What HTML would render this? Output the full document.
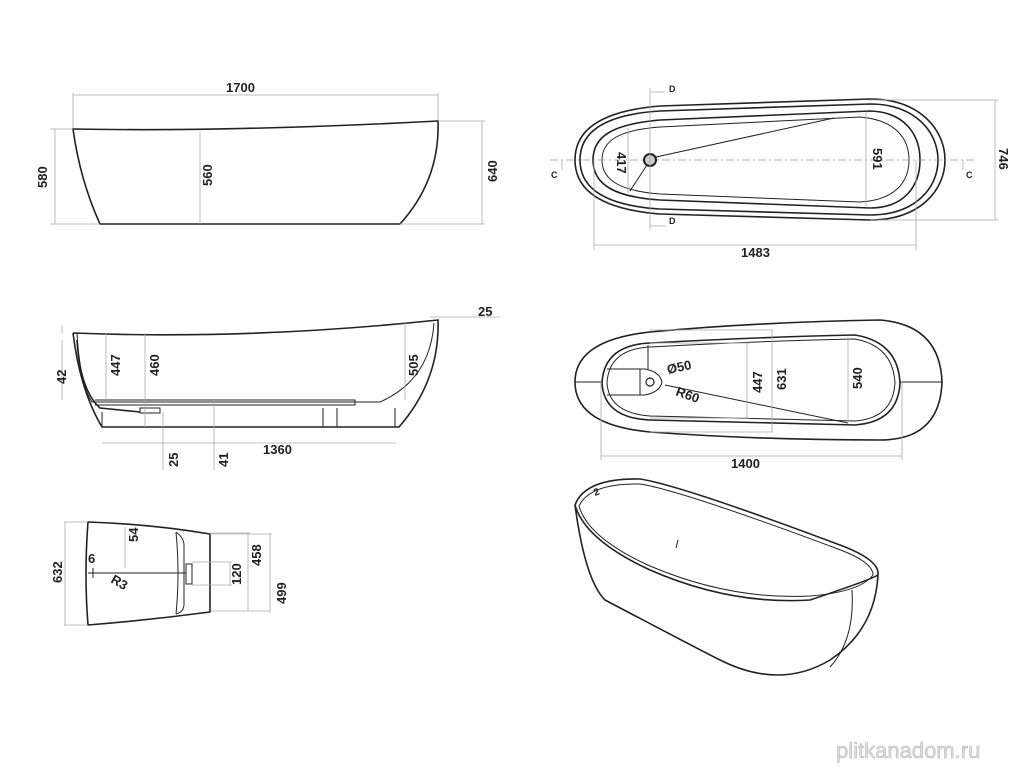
<!DOCTYPE html>
<html><head><style>
html,body{margin:0;padding:0;background:#fff;}
svg{display:block}
text{font-family:"Liberation Sans",sans-serif;font-weight:bold;font-size:13px;fill:#222}
.b{fill:none;stroke:#222;stroke-width:1.6}
.t{fill:none;stroke:#222;stroke-width:1}
.d{fill:none;stroke:#aaa;stroke-width:0.8}
.c{fill:none;stroke:#999;stroke-width:0.8;stroke-dasharray:8 3 2 3}
</style></head><body>
<svg width="1024" height="768" viewBox="0 0 1024 768" xmlns="http://www.w3.org/2000/svg">
<!-- View 1: side -->
<path class="b" d="M73,129 Q230,132 438,121 Q440,180 400,224 L100,224 Q80,180 73,129 Z"/>
<line class="d" x1="73" y1="95" x2="438" y2="95"/>
<line class="d" x1="73" y1="93" x2="73" y2="128"/>
<line class="d" x1="438" y1="93" x2="438" y2="120"/>
<text x="226" y="92">1700</text>
<line class="d" x1="200" y1="132" x2="200" y2="224"/>
<text x="0" y="0" transform="translate(212,186) rotate(-90)">560</text>
<line class="d" x1="50" y1="129" x2="73" y2="129"/><line class="d" x1="50" y1="224" x2="100" y2="224"/>
<line class="d" x1="55" y1="129" x2="55" y2="224"/>
<text transform="translate(47,188) rotate(-90)">580</text>
<line class="d" x1="438" y1="121" x2="485" y2="121"/><line class="d" x1="400" y1="224" x2="485" y2="224"/>
<line class="d" x1="482" y1="121" x2="482" y2="224"/>
<text transform="translate(497,182) rotate(-90)">640</text>

<!-- View 2: section -->
<path class="b" d="M73,333 Q250,340 438,320 Q440,380 399,427 L102,427 Q80,390 73,333"/>
<path class="t" d="M77,333 Q80,385 92,402 L380,402 Q430,380 434,323"/>
<path class="b" d="M77,340 Q80,390 100,408 L140,412"/>
<path class="t" d="M95,400 L355,400 L355,405 L95,405"/>
<path class="t" d="M102,412 L102,427 M323,408 L323,427 M337,408 L337,427 M395,408 L395,427"/>
<path class="t" d="M140,408 L160,408 L160,413 L140,413 Z"/>
<line class="d" x1="62" y1="325" x2="62" y2="333"/><line class="d" x1="62" y1="340" x2="62" y2="400"/>
<text transform="translate(66,384) rotate(-90)">42</text>
<line class="d" x1="106" y1="333" x2="106" y2="400"/>
<text transform="translate(120,376) rotate(-90)">447</text>
<line class="d" x1="145" y1="333" x2="145" y2="427"/>
<text transform="translate(159,376) rotate(-90)">460</text>
<line class="d" x1="405" y1="323" x2="405" y2="400"/>
<text transform="translate(418,376) rotate(-90)">505</text>
<line class="d" x1="430" y1="317" x2="500" y2="317"/>
<text x="478" y="316">25</text>
<line class="d" x1="102" y1="443" x2="396" y2="443"/>
<text x="263" y="454">1360</text>
<line class="d" x1="163" y1="412" x2="163" y2="470"/>
<line class="d" x1="214" y1="400" x2="214" y2="470"/>
<text transform="translate(178,467) rotate(-90)">25</text>
<text transform="translate(228,467) rotate(-90)">41</text>

<!-- View 3: end view -->
<path class="b" d="M88,522 Q150,524 210,534 L210,612 Q150,620 88,625 Q84,575 88,522 Z"/>
<path class="t" d="M176,532 Q184,538 184,545 L184,604 Q184,612 176,614"/>
<path class="t" d="M176,532 Q180,575 176,614"/>
<path class="t" d="M186,564 L192,564 L192,584 L186,584 Z"/>
<line class="t" x1="88" y1="573" x2="186" y2="573"/>
<line class="d" x1="64" y1="522" x2="88" y2="522"/><line class="d" x1="64" y1="625" x2="88" y2="625"/>
<line class="d" x1="65" y1="522" x2="65" y2="625"/>
<text transform="translate(62,583) rotate(-90)">632</text>
<line class="d" x1="125" y1="527" x2="125" y2="568"/>
<text transform="translate(138,542) rotate(-90)">54</text>
<text x="88" y="563">6</text>
<line class="t" x1="93" y1="568" x2="93" y2="578"/>
<text transform="translate(110,582) rotate(30)">R3</text>
<line class="d" x1="192" y1="562" x2="232" y2="562"/><line class="d" x1="192" y1="585" x2="232" y2="585"/>
<line class="d" x1="230" y1="562" x2="230" y2="585"/>
<text transform="translate(241,585) rotate(-90)">120</text>
<line class="d" x1="210" y1="533" x2="250" y2="533"/><line class="d" x1="210" y1="611" x2="270" y2="611"/>
<line class="d" x1="248" y1="533" x2="248" y2="611"/>
<text transform="translate(261,566) rotate(-90)">458</text>
<line class="d" x1="210" y1="534" x2="272" y2="534"/>
<line class="d" x1="270" y1="534" x2="270" y2="613"/>
<text transform="translate(286,604) rotate(-90)">499</text>

<!-- View 4: top plan -->
<path class="b" d="M575,160 C575,125 610,110 660,106 L870,99 C920,99 945,130 945,160 C945,190 920,220 870,220 L660,214 C610,210 575,195 575,160 Z"/>
<path class="b" d="M580,160 C580,128 612,114 660,111 L870,104 C915,104 938,132 938,160 C938,188 915,215 870,215 L660,209 C612,206 580,192 580,160 Z"/>
<path class="b" d="M593,160 C593,135 615,124 660,120 L870,111 C905,112 920,135 920,160 C920,185 905,208 870,208 L660,200 C615,197 593,185 593,160 Z"/>
<path class="t" d="M602,160 C602,140 620,130 660,127 L860,117 C895,120 909,138 909,160 C909,182 895,200 860,202 L660,194 C620,191 602,180 602,160 Z"/>
<line class="c" x1="550" y1="160" x2="975" y2="160"/>
<circle cx="650" cy="160" r="6" fill="#ccc" stroke="#222" stroke-width="2"/>
<line class="t" x1="656" y1="157" x2="834" y2="118"/>
<line class="t" x1="647" y1="165" x2="630" y2="191"/>
<line class="d" x1="628" y1="128" x2="628" y2="193"/>
<text transform="translate(617,152) rotate(90)">417</text>
<line class="d" x1="866" y1="112" x2="866" y2="206"/>
<text transform="translate(873,148) rotate(90)">591</text>
<line class="d" x1="650" y1="88" x2="650" y2="230"/>
<line class="d" x1="650" y1="92" x2="665" y2="92"/><line class="d" x1="650" y1="226" x2="665" y2="226"/>
<text x="669" y="92" style="font-size:9px">D</text><text x="669" y="224" style="font-size:9px">D</text>
<line class="d" x1="562" y1="160" x2="562" y2="170"/><text x="551" y="178" style="font-size:9px">C</text>
<line class="d" x1="963" y1="160" x2="963" y2="170"/><text x="966" y="178" style="font-size:9px">C</text>
<line class="d" x1="870" y1="100" x2="998" y2="100"/><line class="d" x1="870" y1="220" x2="998" y2="220"/>
<line class="d" x1="995" y1="100" x2="995" y2="220"/>
<text transform="translate(999,148) rotate(90)">746</text>
<line class="d" x1="594" y1="160" x2="594" y2="250"/><line class="d" x1="916" y1="160" x2="916" y2="250"/>
<line class="d" x1="594" y1="245" x2="916" y2="245"/>
<text x="741" y="257">1483</text>

<!-- View 5: top view 2 -->
<path class="b" d="M575,382 Q575,340 650,332 Q760,322 880,320 Q940,325 942,382 Q940,440 880,440 Q760,440 650,432 Q575,425 575,382 Z"/>
<path class="b" d="M602,383 Q604,345 650,343 Q760,337 855,335 Q898,342 900,383 Q898,422 855,425 Q760,423 650,420 Q604,418 602,383 Z"/>
<path class="t" d="M607,383 Q609,349 650,347 Q760,341 855,339 Q893,346 895,383 Q893,418 855,421 Q760,419 650,416 Q609,413 607,383 Z"/>
<line class="t" x1="575" y1="382" x2="602" y2="382"/><line class="t" x1="900" y1="382" x2="942" y2="382"/>
<path class="t" d="M607,369 L645,369 Q660,372 662,382 Q660,392 645,395 L607,395"/>
<line class="t" x1="640" y1="369" x2="640" y2="395"/>
<line class="t" x1="648" y1="369" x2="648" y2="345"/>
<circle cx="650" cy="382" r="4" fill="none" stroke="#222" stroke-width="1.2"/>
<line class="t" x1="665" y1="385" x2="848" y2="423"/>
<text x="668" y="374" transform="rotate(-12 668 374)">Ø50</text>
<text x="675" y="395" transform="rotate(20 675 395)">R60</text>
<line class="d" x1="650" y1="343" x2="750" y2="343"/><line class="d" x1="650" y1="418" x2="750" y2="418"/>
<line class="d" x1="747" y1="343" x2="747" y2="418"/>
<text transform="translate(762,393) rotate(-90)">447</text>
<line class="d" x1="650" y1="330" x2="773" y2="330"/><line class="d" x1="650" y1="432" x2="773" y2="432"/>
<line class="d" x1="772" y1="330" x2="772" y2="432"/>
<text transform="translate(786,390) rotate(-90)">631</text>
<line class="d" x1="848" y1="337" x2="848" y2="423"/>
<text transform="translate(862,389) rotate(-90)">540</text>
<line class="d" x1="601" y1="382" x2="601" y2="460"/><line class="d" x1="902" y1="382" x2="902" y2="460"/>
<line class="d" x1="601" y1="456" x2="902" y2="456"/>
<text x="731" y="468">1400</text>

<!-- View 6: perspective -->
<path class="b" d="M575,505 Q585,478 640,479 Q680,485 840,545 Q880,560 878,575 Q870,580 810,600 Q730,605 650,570 Q585,540 575,505 Z"/>
<path class="t" d="M579,506 Q590,483 640,484 Q680,490 838,549 Q873,562 873,575 Q860,592 810,596 Q730,600 650,566 Q588,538 579,506 Z"/>
<path class="b" d="M575,505 Q585,580 605,600 Q700,650 720,660 Q780,690 830,660 Q875,630 878,575"/>
<path class="t" d="M852,590 Q855,640 830,667"/>
<line class="t" x1="678" y1="540" x2="676" y2="548"/>
<text x="595" y="496" style="font-size:10px" transform="rotate(-20 595 496)">2</text>

<text x="836" y="758" style="font-size:22px;font-weight:normal;fill:#ddd;stroke:#bbb;stroke-width:0.6">plitkanadom.ru</text>
</svg>
</body></html>
